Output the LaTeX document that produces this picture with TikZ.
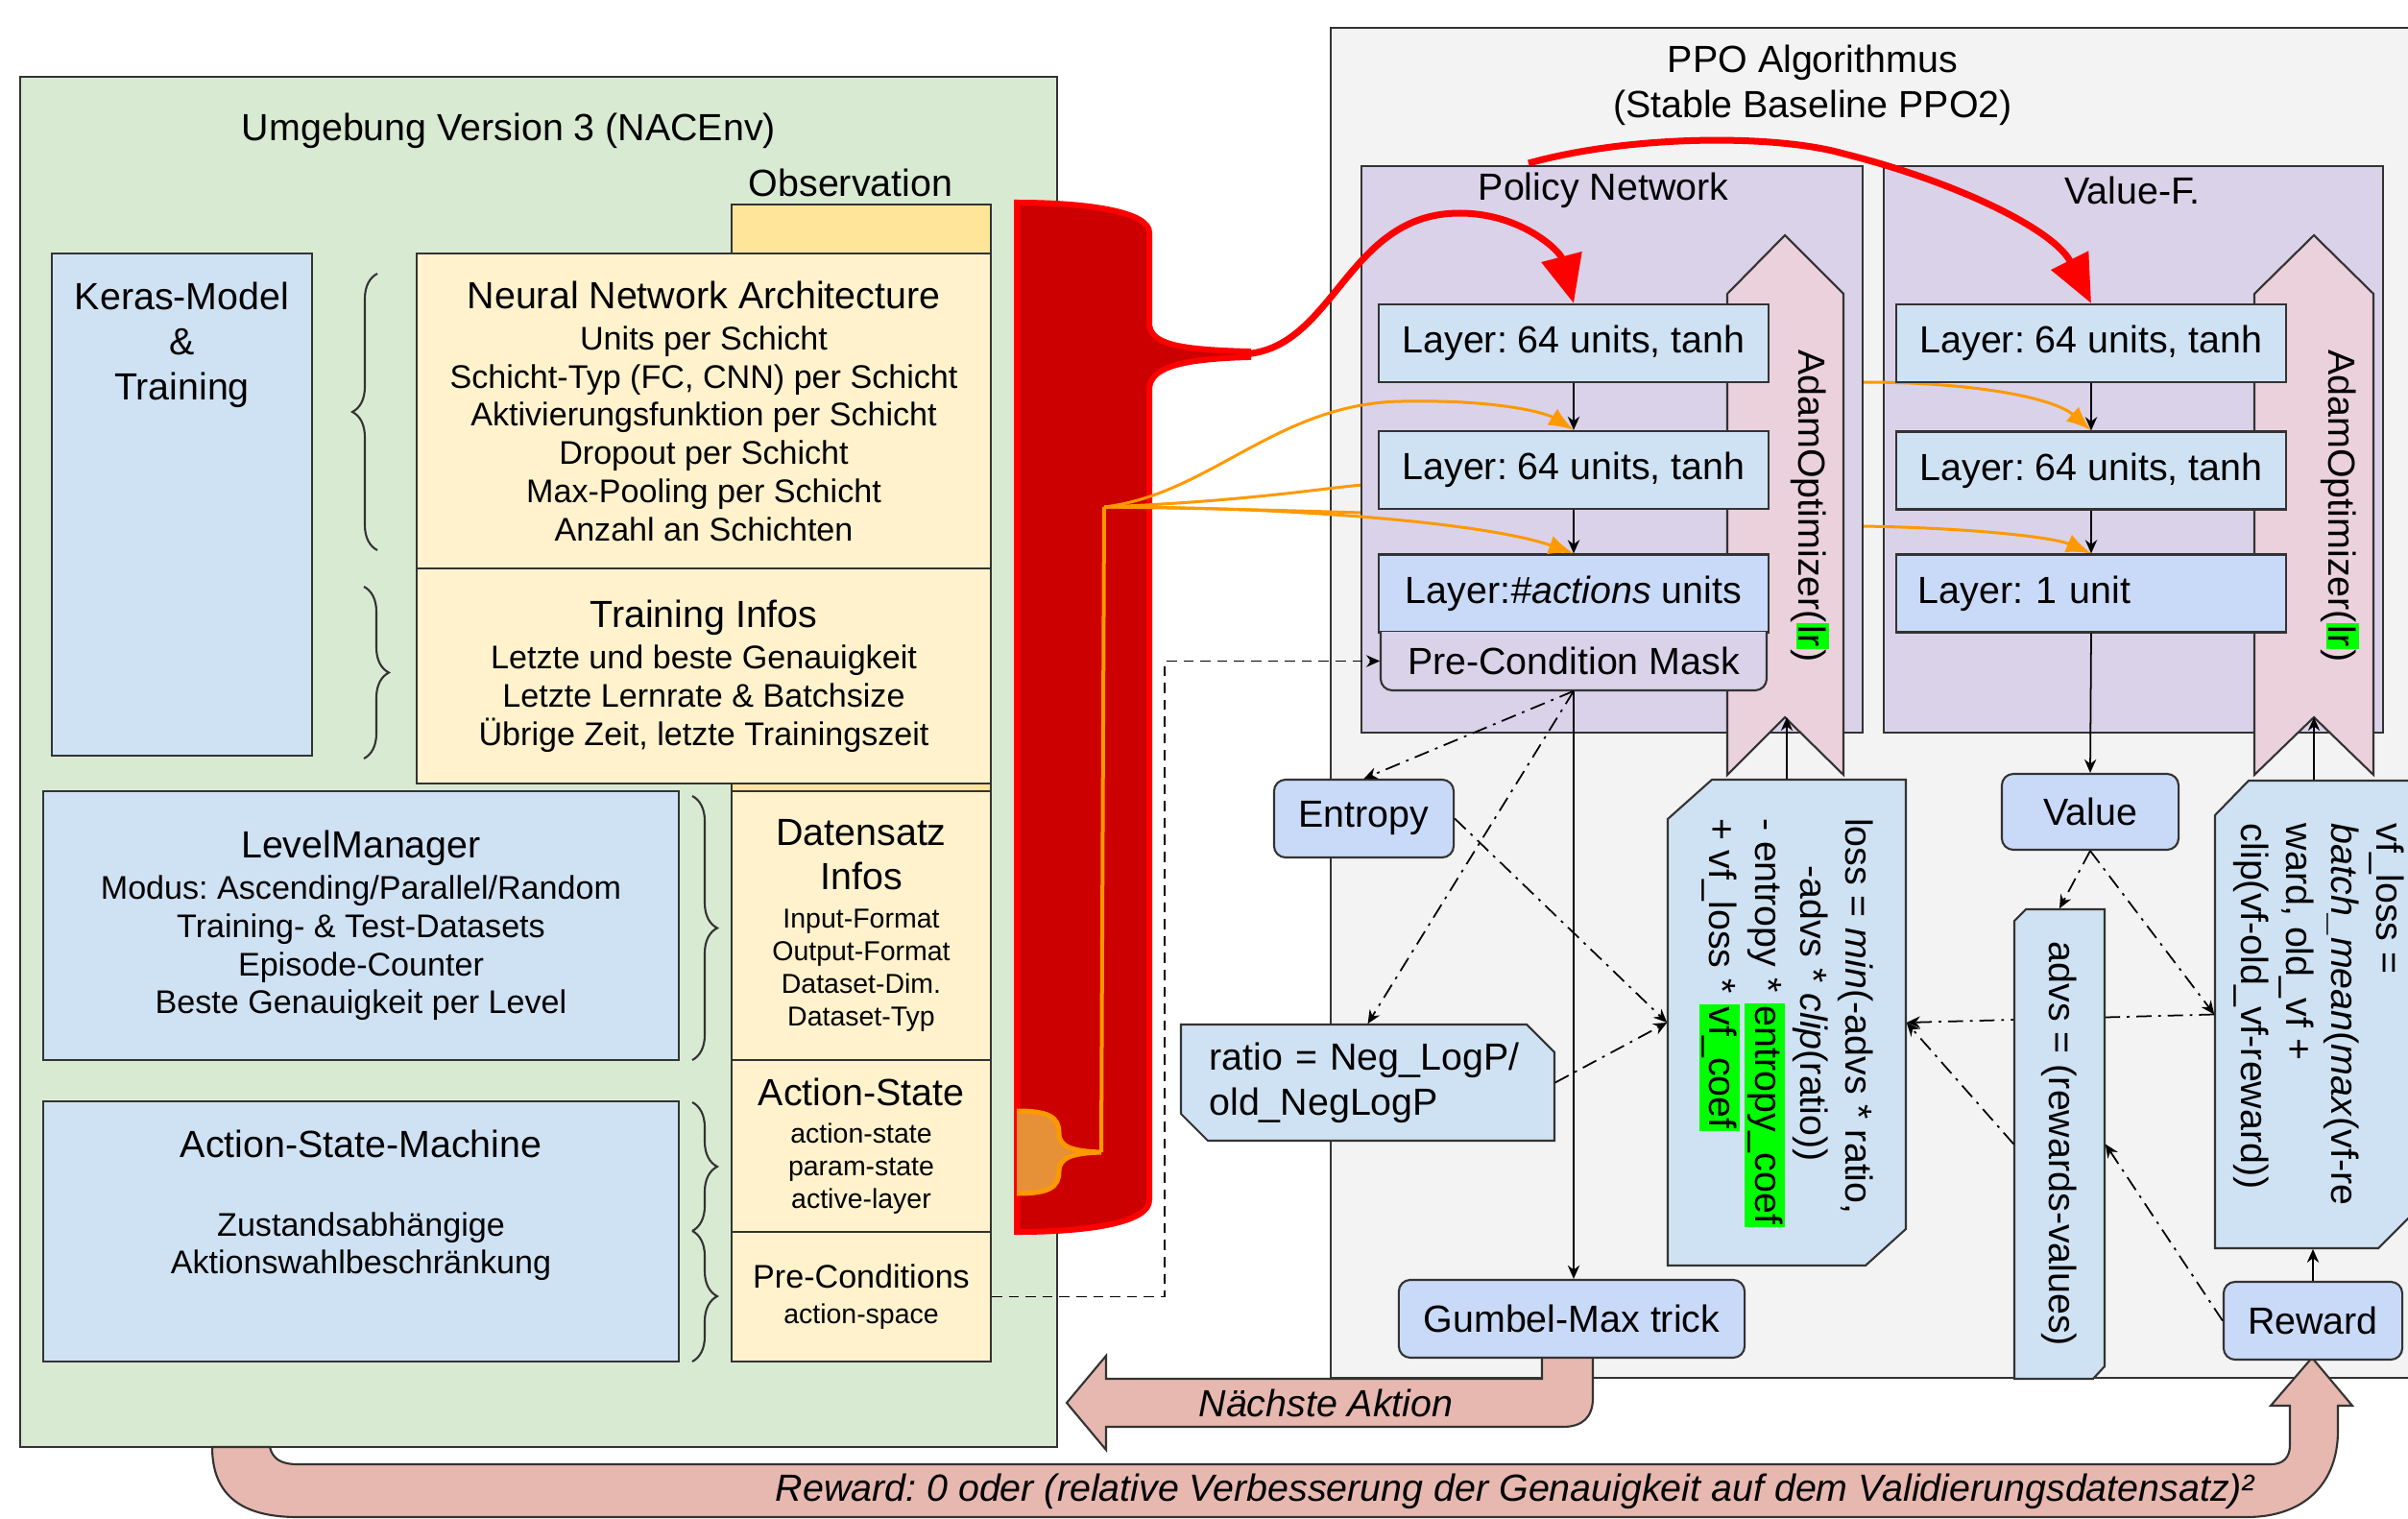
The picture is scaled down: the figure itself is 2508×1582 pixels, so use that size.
\documentclass[tikz,border=0pt]{standalone}
\usepackage{fontspec}
\usepackage{graphicx}
\setmainfont{Liberation Sans}
\usetikzlibrary{arrows.meta,decorations.pathreplacing}
\frenchspacing

\pgfdeclarelayer{back}
\pgfdeclarelayer{hidden}
\pgfsetlayers{back,hidden,main}

\definecolor{envgreen}{HTML}{D9EAD3}
\definecolor{boxblue}{HTML}{CFE2F3}
\definecolor{nodeblue}{HTML}{C9DAF8}
\definecolor{obsyellow}{HTML}{FFF2CC}
\definecolor{obshead}{HTML}{FFE599}
\definecolor{netpurple}{HTML}{D9D2E9}
\definecolor{adampink}{HTML}{EAD1DC}
\definecolor{flowpink}{HTML}{E6B8AF}
\definecolor{ppogray}{HTML}{F3F3F3}
\definecolor{obsred}{HTML}{CC0000}
\definecolor{obsredline}{HTML}{FF0000}
\definecolor{actorange}{HTML}{FF9900}
\definecolor{actfill}{HTML}{E69138}
\definecolor{hlgreen}{HTML}{00FF00}
\definecolor{edgegray}{HTML}{333333}

\newcommand{\fsT}{\fontsize{11.2}{13.4}\selectfont}
\newcommand{\fsB}{\fontsize{9.7}{11.3}\selectfont}
\newcommand{\fsS}{\fontsize{8.1}{9.7}\selectfont}
\newcommand{\hlg}[1]{{\setlength{\fboxsep}{0.8pt}\colorbox{hlgreen}{#1}}}

\tikzset{
  panel/.style={draw=edgegray, line width=0.6pt},
  envbox/.style={draw=edgegray, line width=0.6pt, fill=boxblue, align=center, inner sep=0pt},
  obsbox/.style={draw=edgegray, line width=0.6pt, fill=obsyellow, align=center, inner sep=0pt},
  layerbox/.style={draw=edgegray, line width=0.6pt, fill=boxblue, minimum width=4.06cm, minimum height=0.81cm, inner sep=0pt},
  opbox/.style={draw=edgegray, line width=0.6pt, fill=nodeblue, rounded corners=0.12cm, inner sep=0pt},
  calcbox/.style={draw=edgegray, line width=0.6pt, fill=boxblue},
  brc/.style={decorate, decoration={brace, amplitude=0.26cm}, draw=edgegray, line width=0.6pt},
  flow/.style={draw=black, line width=0.5pt, -{Stealth[length=4pt,width=3.5pt]}},
  dotflow/.style={flow, dash pattern=on 4.5pt off 2pt on 0.8pt off 2pt},
  dashflow/.style={flow, dash pattern=on 3pt off 2pt},
  obsflow/.style={draw=obsredline, line width=0.07cm, -{Triangle[length=0.5cm,width=0.42cm]}},
  actflow/.style={draw=actorange, line width=0.03cm, -{Latex[length=0.26cm,width=0.2cm]}},
  bigflow/.style={draw=edgegray, line width=0.6pt, fill=flowpink}
}

\begin{document}
\begin{tikzpicture}[x=0.01cm, y=-0.01cm, font=\fsT]
\useasboundingbox (0,0) rectangle (2508,1582);

\begin{pgfonlayer}{back}
  \filldraw[panel, fill=envgreen] (21,80) rectangle (1101,1507);
  \filldraw[fill=obsred, draw=obsredline, line width=0.06cm] (1059,211) .. controls (1140,211) and (1197,222) .. (1197,242)
    -- (1197,336) .. controls (1197,358) and (1225,364) .. (1300,366) -- (1300,372)
    .. controls (1225,374) and (1197,384) .. (1197,406) -- (1197,1250)
    .. controls (1197,1272) and (1140,1283) .. (1059,1283) -- cycle;
  \filldraw[panel, fill=ppogray] (1386,29) rectangle (2540,1435);
  \filldraw[panel, fill=netpurple] (1962,173) rectangle (2482,763);
\end{pgfonlayer}

\node (envtitle) at (530,136) {Umgebung Version 3 (NACEnv)};
\node (obstitle) at (886,190) {Observation};
\filldraw[panel, fill=obshead] (762,213) rectangle (1032,1418);

\node[envbox, minimum width=2.71cm, minimum height=5.23cm,
  label={[anchor=north, yshift=-0.3cm, align=center, inner sep=0pt]north:Keras-Model\\\&\\Training}] (keras) at (189.5,525.5) {};
\node[obsbox, minimum width=5.98cm, minimum height=3.28cm, font=\fsB] (nnarch) at (733,428)
  {{\fsT Neural Network Architecture}\\[1pt]Units per Schicht\\Schicht-Typ (FC, CNN) per Schicht\\Aktivierungsfunktion per Schicht\\Dropout per Schicht\\Max-Pooling per Schicht\\Anzahl an Schichten};
\node[obsbox, minimum width=5.98cm, minimum height=2.24cm, font=\fsB] (trinfo) at (733,704)
  {{\fsT Training Infos}\\[1pt]Letzte und beste Genauigkeit\\Letzte Lernrate \& Batchsize\\Übrige Zeit, letzte Trainingszeit};
\node[envbox, minimum width=6.62cm, minimum height=2.80cm, font=\fsB] (levelm) at (376,964)
  {{\fsT LevelManager}\\[1pt]Modus: Ascending/Parallel/Random\\Training- \& Test-Datasets\\Episode-Counter\\Beste Genauigkeit per Level};
\node[envbox, minimum width=6.62cm, minimum height=2.71cm,
  label={[anchor=north, yshift=-0.3cm, align=center, inner sep=0pt, font=\fsB]north:{\fsT Action-State-Machine}\\[12pt]Zustandsabhängige\\Aktionswahlbeschränkung}] (asm) at (376,1282.5) {};
\node[obsbox, minimum width=2.70cm, minimum height=2.80cm, font=\fsS] (dset) at (897,964)
  {{\fsT Datensatz}\\[3.3pt]{\fsT Infos}\\[1.6pt]Input-Format\\Output-Format\\Dataset-Dim.\\Dataset-Typ};
\node[obsbox, minimum width=2.70cm, minimum height=1.79cm, font=\fsS] (astate) at (897,1193.5)
  {{\fsT Action-State}\\[1.3pt]action-state\\param-state\\active-layer};
\node[obsbox, minimum width=2.70cm, minimum height=1.35cm, font=\fsS] (precond) at (897,1350.5)
  {{\fsB Pre-Conditions}\\[0.8pt]action-space};

\draw[brc] (393,573) -- (393,285);
\draw[brc] (379,611) -- (379,790);
\draw[brc] (721,829) -- (721,1104);
\draw[brc] (721,1148) -- (721,1282);
\draw[brc] (721,1282) -- (721,1418);

\node[align=center] (ppotitle) at (1888,89) {PPO Algorithmus\\(Stable Baseline PPO2)};
\node (valtitle) at (2221,198) {Value-F.};

\filldraw[panel, fill=netpurple] (1418,173) rectangle (1940,763);
\node (poltitle) at (1670,198) {Policy Network};

\filldraw[panel, fill=adampink] (1799,306) -- (1859,245) -- (1920,306) -- (1920,807) -- (1859,747) -- (1799,807) -- cycle;
\coordinate (padamnotch) at (1859,747);
\node[rotate=-90] (padam) at (1885,527) {AdamOptimizer(\hlg{lr})};
\filldraw[panel, fill=adampink] (2348,306) -- (2410,245) -- (2472,306) -- (2472,807) -- (2410,747) -- (2348,807) -- cycle;
\coordinate (vadamnotch) at (2410,747);
\node[rotate=-90] (vadam) at (2437,527) {AdamOptimizer(\hlg{lr})};

\node[layerbox] (pl1) at (1639,357.5) {Layer: 64 units, tanh};
\node[layerbox] (pl2) at (1639,489.5) {Layer: 64 units, tanh};
\node[layerbox, fill=nodeblue] (pl3) at (1639,618) {Layer:\textit{\#actions} units};
\filldraw[panel, fill=netpurple, rounded corners=0.12cm] (1438,658) -- (1438,719) -- (1840,719) -- (1840,658);
\node[minimum width=4.02cm, minimum height=0.61cm, inner sep=0pt] (mask) at (1639,688.5) {Pre-Condition Mask};

\node[layerbox] (vl1) at (2178,357.5) {Layer: 64 units, tanh};
\node[layerbox] (vl2) at (2178,490) {Layer: 64 units, tanh};
\node[layerbox, fill=nodeblue, text width=3.6cm, align=left] (vl3) at (2178,618) {Layer: 1 unit};

\draw[flow] (pl1) -- (pl2);
\draw[flow] (pl2) -- (pl3);
\draw[flow] (vl1) -- (vl2);
\draw[flow] (vl2) -- (vl3);

\coordinate (obsbranch) at (1290,369);
\coordinate (obssplit) at (1592,170);
\coordinate (obsin) at (1147,1200);
\coordinate (obsout) at (1150,528);
\draw[obsflow] (obsbranch) .. controls (1390,369) and (1400,222) .. (1520,222) .. controls (1585,222) and (1625,262) .. (pl1.north);
\draw[actflow] (obsout) .. controls (1260,515) and (1330,420) .. (1460,418) .. controls (1560,416) and (1610,430) .. (pl2.north);
\draw[actflow] (obsout) .. controls (1350,528) and (1550,545) .. (pl3.north);

\begin{pgfonlayer}{hidden}
  \filldraw[fill=actfill, draw=actorange, line width=0.05cm] (1059,1157) .. controls (1092,1157) and (1103,1163) .. (1103,1180)
    .. controls (1103,1195) and (1118,1199) .. (obsin) .. controls (1118,1201) and (1103,1205) .. (1103,1220)
    .. controls (1103,1237) and (1092,1243) .. (1059,1243);
  \draw[actorange, line width=0.04cm] (obsin) -- (obsout);
  \draw[actflow] (obsout) .. controls (1300,522) and (1380,508) .. (1420,505) -- (1940,398) .. controls (2060,398) and (2140,415) .. (vl2.north);
  \draw[actflow] (obsout) .. controls (1300,530) and (1380,533) .. (1420,534) -- (1940,548) .. controls (2060,550) and (2140,560) .. (vl3.north);
  \draw[obsflow] (obssplit) .. controls (1700,140) and (1850,140) .. (1920,160) .. controls (2040,190) and (2140,240) .. (vl1.north);
\end{pgfonlayer}

\node[opbox, minimum width=1.87cm, minimum height=0.81cm] (entropy) at (1420.5,852.5) {Entropy};
\filldraw[calcbox] (1230,1067) -- (1590,1067) -- (1619,1096) -- (1619,1188) -- (1258,1188) -- (1230,1160) -- cycle;
\node[minimum width=3.89cm, minimum height=1.21cm, text width=3.3cm, align=left, inner sep=0pt] (ratio) at (1424.5,1127.5) {ratio = Neg\_LogP/\\old\_NegLogP};
\filldraw[calcbox] (1783,812) -- (1985,812) -- (1985,1280) -- (1943,1318) -- (1737,1318) -- (1737,853) -- cycle;
\node[minimum width=2.48cm, minimum height=5.06cm, inner sep=0pt] (loss) at (1861,1065)
  {\rotatebox{-90}{\begin{tabular}{@{}l@{}}loss = \textit{min}(-advs * ratio,\\\hspace*{14pt}-advs * \textit{clip}(ratio))\\- entropy * \hlg{entropy\_coef}\\+ vf\_loss * \hlg{vf\_coef}\end{tabular}}};
\node[opbox, minimum width=1.84cm, minimum height=0.79cm] (value) at (2177,845.5) {Value};
\filldraw[calcbox] (2342,813) -- (2522,813) -- (2522,1255) -- (2477,1300) -- (2307,1300) -- (2307,849) -- cycle;
\node[minimum width=2.15cm, minimum height=4.87cm, inner sep=0pt] (vfloss) at (2414.5,1056.5)
  {\rotatebox{-90}{\begin{tabular}{@{}l@{}}vf\_loss =\\\textit{batch\_mean}(\textit{max}(vf-re\\ward, old\_vf +\\clip(vf-old\_vf-reward))\end{tabular}}};

\draw[dotflow] (vfloss.west) -- (loss.east);

\filldraw[calcbox] (2110,947) -- (2192,947) -- (2192,1423) -- (2180,1436) -- (2098,1436) -- (2098,959) -- cycle;
\node[minimum width=0.94cm, minimum height=4.89cm, inner sep=0pt] (advs) at (2145,1191.5) {\rotatebox{-90}{advs = (rewards-values)}};

\filldraw[bigflow] (1606,1410) -- (1606,1436) -- (1152,1436) -- (1152,1412) -- (1111,1461) -- (1152,1510) -- (1152,1486) -- (1628,1486)
  .. controls (1648,1486) and (1659,1476) .. (1659,1456) -- (1659,1410) -- cycle;
\node[font=\fsT\itshape] (nextact) at (1381,1461) {Nächste Aktion};
\filldraw[bigflow] (281,1507) .. controls (284,1519) and (292,1525) .. (310,1525) -- (2365,1525)
  .. controls (2378,1525) and (2385,1518) .. (2385,1505) -- (2385,1464) -- (2365,1464) -- (2408,1414) -- (2450,1464) -- (2435,1464)
  -- (2435,1490) .. controls (2435,1545) and (2400,1580) .. (2340,1580) -- (310,1580) .. controls (255,1580) and (221,1560) .. (221,1507) -- cycle;
\node[font=\fsT\itshape] (rewardtxt) at (1578,1553) {Reward: 0 oder (relative Verbesserung der Genauigkeit auf dem Validierungsdatensatz)²};

\node[opbox, minimum width=3.60cm, minimum height=0.81cm] (gumbel) at (1637,1373.5) {Gumbel-Max trick};
\node[opbox, minimum width=1.86cm, minimum height=0.81cm] (reward) at (2409,1375.5) {Reward};

\draw[flow] (mask.south) -- (mask.south |- gumbel.north);
\draw[dotflow] (mask.south) -- (entropy.north);
\draw[dotflow] (mask.south) -- (ratio.north);
\draw[dotflow] (entropy.east) -- (loss.west);
\draw[dotflow] (ratio.east) -- (loss.west);
\draw[flow] (loss.north) -- (loss.north |- padamnotch);
\draw[flow] (vl3.south) -- (value.north);
\draw[dotflow] (value.south) -- (advs.north);
\draw[dotflow] (value.south) -- (vfloss.west);
\draw[dotflow] (reward.west) -- (advs.east);
\draw[dotflow] (advs.west) -- (loss.east);
\draw[flow] (reward.north) -- (reward.north |- vfloss.south);
\draw[flow] (vfloss.north -| vadamnotch) -- (vadamnotch);
\draw[dashflow] (precond.east) -- ++(180,0) |- (mask.west);

\end{tikzpicture}
\end{document}
